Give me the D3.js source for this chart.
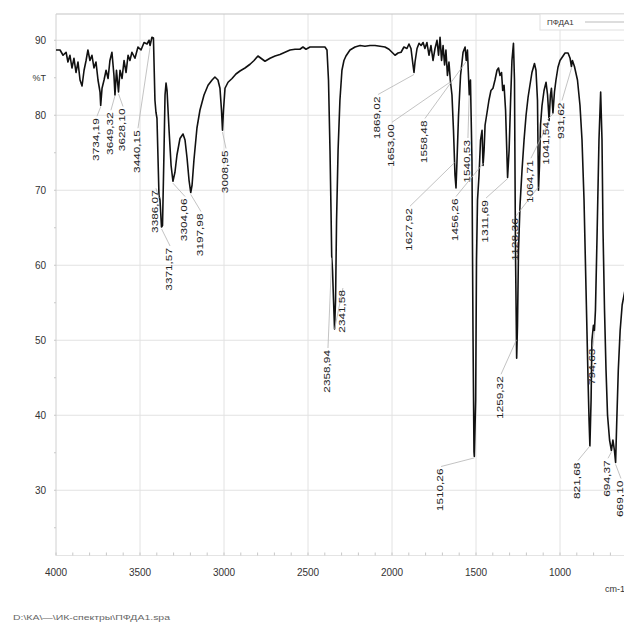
<!DOCTYPE html>
<html>
<head>
<meta charset="utf-8">
<script src="https://cdn.jsdelivr.net/npm/d3@7"></script>
<style>
    body { margin: 0; background: #fff; }
    svg { display: block; }
</style>
</head>
<body>
<script>
// spectrum (cm-1, %T)
const wavenumbers = [
    4000, 3976, 3958, 3940, 3929, 3917, 3905, 3893, 3881, 3869, 3857, 3845, 3833, 3821, 3810, 3798, 3786, 3774, 3762, 3750,
    3738, 3734, 3726, 3714, 3702, 3690, 3679, 3667, 3655, 3649, 3640, 3628, 3619, 3607, 3595, 3583, 3571, 3560, 3548, 3530,
    3512, 3494, 3476, 3458, 3446, 3440, 3429, 3420, 3411, 3405, 3399, 3387, 3381, 3372, 3366, 3357, 3351, 3345, 3339, 3327,
    3315, 3304, 3292, 3280, 3262, 3244, 3232, 3220, 3208, 3198, 3190, 3179, 3161, 3143, 3119, 3095, 3071, 3054, 3036, 3024,
    3015, 3009, 3003, 2994, 2976, 2952, 2929, 2905, 2875, 2845, 2821, 2798, 2774, 2756, 2726, 2696, 2667, 2637, 2607, 2577,
    2548, 2530, 2512, 2488, 2458, 2429, 2399, 2387, 2378, 2369, 2363, 2359, 2354, 2348, 2342, 2336, 2330, 2321, 2310, 2298,
    2286, 2274, 2250, 2220, 2190, 2161, 2131, 2101, 2071, 2042, 2018, 2000, 1982, 1964, 1946, 1929, 1911, 1899, 1887, 1875,
    1869, 1863, 1851, 1839, 1827, 1815, 1804, 1792, 1780, 1768, 1756, 1744, 1732, 1723, 1714, 1705, 1696, 1687, 1679, 1670,
    1661, 1653, 1643, 1634, 1625, 1619, 1613, 1604, 1592, 1577, 1565, 1558, 1551, 1540, 1533, 1524, 1518, 1512, 1510, 1502,
    1497, 1491, 1482, 1473, 1464, 1458, 1452, 1446, 1434, 1423, 1411, 1399, 1387, 1375, 1366, 1357, 1348, 1341, 1333, 1324,
    1312, 1303, 1294, 1286, 1277, 1271, 1265, 1258, 1253, 1247, 1238, 1226, 1214, 1202, 1190, 1179, 1167, 1152, 1143, 1134,
    1128, 1122, 1116, 1107, 1095, 1083, 1074, 1065, 1057, 1051, 1042, 1033, 1024, 1012, 1000, 988, 970, 952, 940, 932,
    926, 914, 896, 881, 869, 857, 845, 833, 827, 822, 815, 810, 801, 795, 789, 780, 768, 758, 750, 744,
    735, 726, 717, 705, 694, 685, 676, 669, 662, 653, 642, 630, 613
];
const transmittance = [
    88.7, 88.7, 88.0, 88.4, 87.1, 88.0, 86.3, 87.6, 85.7, 87.1, 84.7, 83.9, 86.0, 87.3, 88.7, 87.3, 88.0, 86.3, 87.1, 84.7,
    83.1, 81.3, 83.6, 84.7, 86.0, 84.9, 87.3, 88.4, 85.3, 82.7, 86.0, 83.1, 86.0, 84.9, 87.3, 85.7, 88.0, 87.3, 88.4, 87.6,
    89.1, 88.7, 89.7, 89.5, 90.0, 89.3, 90.4, 90.3, 82.0, 80.4, 79.6, 69.3, 68.7, 65.1, 65.3, 75.3, 82.7, 84.3, 83.3, 78.0,
    73.3, 71.2, 72.4, 74.7, 76.9, 77.5, 76.7, 74.3, 71.3, 69.7, 70.7, 74.0, 78.3, 80.7, 82.7, 84.0, 84.7, 85.1, 84.7, 83.6,
    80.7, 78.0, 80.7, 83.6, 84.4, 84.9, 85.5, 85.9, 86.3, 86.8, 87.3, 87.9, 87.5, 87.2, 87.6, 87.9, 88.1, 88.4, 88.7, 88.8,
    88.8, 89.1, 88.8, 89.1, 89.1, 89.1, 89.1, 88.7, 84.7, 75.3, 67.3, 61.3, 59.3, 55.3, 51.5, 55.3, 66.0, 75.3, 82.0, 86.0,
    87.3, 87.9, 88.7, 89.1, 89.3, 89.2, 89.3, 89.3, 89.2, 89.1, 88.8, 88.4, 88.0, 88.3, 88.4, 89.1, 88.9, 89.5, 88.9, 86.7,
    85.7, 87.1, 88.9, 89.6, 89.3, 89.7, 88.9, 89.7, 88.0, 89.3, 87.3, 88.9, 90.0, 88.0, 90.4, 87.3, 89.3, 86.7, 88.7, 85.3,
    87.1, 84.7, 82.7, 78.0, 72.0, 70.3, 74.0, 80.0, 85.3, 88.4, 89.1, 87.3, 88.7, 82.7, 84.7, 74.0, 51.3, 35.1, 34.5, 42.0,
    60.7, 68.7, 72.0, 76.7, 78.0, 73.3, 75.3, 78.7, 80.4, 82.0, 83.3, 83.6, 84.7, 86.0, 86.3, 85.3, 85.7, 83.3, 84.0, 80.7,
    71.7, 75.3, 82.0, 87.3, 89.6, 84.7, 62.0, 47.6, 52.0, 62.0, 68.0, 72.7, 76.7, 80.0, 82.4, 84.0, 85.7, 86.9, 86.0, 82.0,
    70.0, 73.3, 78.7, 81.3, 83.3, 84.4, 82.7, 79.3, 82.7, 83.6, 80.3, 83.1, 84.7, 86.4, 87.3, 87.7, 88.3, 88.3, 87.6, 86.5,
    87.3, 86.5, 84.7, 81.3, 76.7, 68.7, 56.7, 44.7, 39.3, 35.9, 42.0, 50.0, 52.0, 51.3, 54.0, 63.3, 76.7, 83.1, 76.7, 64.7,
    54.0, 46.0, 40.0, 36.7, 35.3, 36.7, 35.3, 33.7, 39.3, 46.0, 51.3, 54.7, 56.7
];

// marked peaks and where their labels sit (label centre in cm-1, label top in %T)
const peak_wavenumbers = [3734.19, 3649.32, 3628.10, 3440.15, 3386.07, 3371.57, 3304.06, 3197.98, 3008.95, 2358.94, 2341.58,
    1869.02, 1653.00, 1558.48, 1627.92, 1540.53, 1456.26, 1311.69, 1259.32, 1510.26, 1128.36, 1064.71, 1041.54, 931.62,
    821.68, 794.63, 694.37, 669.10];
const label_x = [3762, 3679, 3607, 3518, 3411, 3327, 3238, 3143, 2994, 2387, 2298,
    2089, 2006, 1810, 1899, 1554, 1625, 1446, 1357, 1714, 1268, 1179, 1083, 994,
    899, 810, 720, 643];
const label_top = [79.6, 80.4, 80.9, 78.0, 70.0, 62.3, 68.9, 66.9, 75.3, 48.7, 56.7,
    82.5, 78.8, 79.3, 67.6, 76.7, 68.9, 68.7, 45.2, 32.9, 66.3, 74.0, 79.1, 81.7,
    33.7, 48.9, 34.0, 31.3];

const y_ticks = [90, 80, 70, 60, 50, 40, 30];
const x_ticks = [4000, 3500, 3000, 2500, 2000, 1500, 1000];
const series_name = 'ПФДА1';
const file_path = 'D:\\КА\\—\\ИК-спектры\\ПФДА1.spa';

const _svg_width = 624;
const _svg_height = 623;
const _left = 56;
const _top = 14;
const _bottom = 555.5;
const font = "'Liberation Sans', Arial, sans-serif";

const x = d3.scaleLinear().domain([4000, 400]).range([_left, _left + 3600 * 0.168]);
const y = d3.scaleLinear().domain([93.5, 21.3]).range([_top, _bottom]);
const comma_format = v => d3.format('.2f')(v).replace('.', ',');

const svg = d3.select('body')
    .append('svg')
    .attr('width', _svg_width)
    .attr('height', _svg_height)
    .style('background-color', 'white');

svg.append('defs').append('clipPath')
    .attr('id', 'plot_clip')
    .append('rect')
    .attr('x', _left)
    .attr('y', _top)
    .attr('width', _svg_width - _left)
    .attr('height', _bottom - _top);

// grid
const grid = svg.append('g').attr('id', 'grid');
grid.selectAll('.h_grid')
    .data(y_ticks)
    .join('line')
    .attr('x1', _left).attr('x2', _svg_width)
    .attr('y1', d => y(d)).attr('y2', d => y(d))
    .attr('stroke', '#e2e2e2').attr('stroke-width', 1);
grid.selectAll('.v_grid')
    .data(x_ticks.slice(1))
    .join('line')
    .attr('x1', d => x(d)).attr('x2', d => x(d))
    .attr('y1', _top).attr('y2', _bottom)
    .attr('stroke', '#e2e2e2').attr('stroke-width', 1);

// frame
svg.append('line')
    .attr('x1', _left).attr('x2', _svg_width).attr('y1', _top).attr('y2', _top)
    .attr('stroke', '#c4c4c4').attr('stroke-width', 1.2);
svg.append('line')
    .attr('x1', _left).attr('x2', _left).attr('y1', _top).attr('y2', _bottom)
    .attr('stroke', '#d0d0d0').attr('stroke-width', 1);
svg.append('line')
    .attr('x1', _left).attr('x2', _svg_width).attr('y1', _bottom).attr('y2', _bottom)
    .attr('stroke', '#e4e4e4').attr('stroke-width', 1);

// minor ticks
svg.append('g')
    .selectAll('line')
    .data(d3.range(25, 95, 5))
    .join('line')
    .attr('x1', _left - 2).attr('x2', _left)
    .attr('y1', d => y(d)).attr('y2', d => y(d))
    .attr('stroke', '#c8c8c8');
svg.append('g')
    .selectAll('line')
    .data(d3.range(4000, 400, -100))
    .join('line')
    .attr('x1', d => x(d)).attr('x2', d => x(d))
    .attr('y1', _bottom - 3).attr('y2', _bottom)
    .attr('stroke', '#c8c8c8');

// axis labels
svg.append('g')
    .selectAll('text')
    .data(y_ticks)
    .join('text')
    .attr('x', 46)
    .attr('y', d => y(d) + 3.5)
    .attr('text-anchor', 'end')
    .attr('font-family', font)
    .attr('font-size', 10)
    .attr('fill', '#333')
    .text(d => d);
svg.append('text')
    .attr('x', 46).attr('y', y(85) + 3.5)
    .attr('text-anchor', 'end')
    .attr('font-family', font).attr('font-size', 9).attr('fill', '#333')
    .text('%T');
svg.append('g')
    .selectAll('text')
    .data(x_ticks)
    .join('text')
    .attr('x', d => x(d))
    .attr('y', 576)
    .attr('text-anchor', 'middle')
    .attr('font-family', font)
    .attr('font-size', 10)
    .attr('fill', '#333')
    .text(d => d);
svg.append('text')
    .attr('x', 605).attr('y', 592)
    .attr('font-family', font).attr('font-size', 9).attr('fill', '#333')
    .text('cm-1');

// legend
svg.append('rect')
    .attr('x', 540).attr('y', _top).attr('width', 100).attr('height', 16)
    .attr('fill', 'white').attr('stroke', '#e0e0e0');
svg.append('text')
    .attr('x', 547).attr('y', 25)
    .attr('font-family', font).attr('font-size', 8).attr('fill', '#333')
    .text(series_name);
svg.append('line')
    .attr('x1', 585).attr('x2', 624).attr('y1', 22).attr('y2', 22)
    .attr('stroke', '#bbb').attr('stroke-width', 1);

// spectrum
const points = wavenumbers.map((w, i) => [w, transmittance[i]]);
const line = d3.line().x(d => x(d[0])).y(d => y(d[1]));
svg.append('path')
    .datum(points)
    .attr('clip-path', 'url(#plot_clip)')
    .attr('d', line)
    .attr('fill', 'none')
    .attr('stroke', '#111')
    .attr('stroke-width', 1.6)
    .attr('stroke-linejoin', 'round');

// peak labels with leaders
const value_at = w => {
    const i = points.findIndex(p => p[0] <= w);
    if (i <= 0) return points[Math.max(i, 0)][1];
    const a = points[i - 1], b = points[i];
    return a[1] + (b[1] - a[1]) * (a[0] - w) / (a[0] - b[0]);
};
const labels = svg.append('g').attr('id', 'peak_labels');
peak_wavenumbers.forEach((w, i) => {
    const lx = x(label_x[i]);
    const ly = y(label_top[i]);
    const txt = comma_format(w);
    labels.append('line')
        .attr('x1', lx + 1).attr('y1', ly - 2)
        .attr('x2', x(w)).attr('y2', y(value_at(w)) + 2)
        .attr('stroke', '#b4b4b4').attr('stroke-width', 0.8);
    labels.append('text')
        .attr('transform', `translate(${lx + 3},${ly}) rotate(-90)`)
        .attr('text-anchor', 'end')
        .attr('font-family', font)
        .attr('font-size', 8.8)
        .attr('fill', '#222')
        .attr('textLength', txt.length * 6.1)
        .attr('lengthAdjust', 'spacingAndGlyphs')
        .text(txt);
});

// file path footer
svg.append('text')
    .attr('x', 13).attr('y', 620)
    .attr('font-family', font).attr('font-size', 7).attr('fill', '#666')
    .attr('textLength', 157)
    .attr('lengthAdjust', 'spacingAndGlyphs')
    .text(file_path);
</script>
</body>
</html>
